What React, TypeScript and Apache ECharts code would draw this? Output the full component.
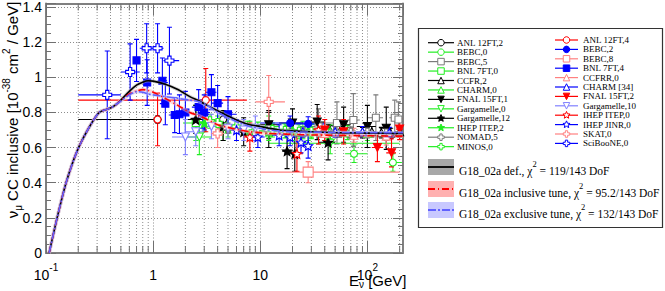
import React, { useEffect, useRef } from 'react';
import * as echarts from 'echarts';

const FONT_SANS = '"Liberation Sans", Arial, sans-serif';
const FONT_SERIF = '"Liberation Serif", "Times New Roman", serif';

// ---- axis ranges ----
const X_MIN = 0.1;
const X_MAX = 215;
const Y_MIN = 0;
const Y_MAX = 1.42;

// ---- GENIE curves ----
const curveE = [0.107, 0.127, 0.154, 0.195, 0.25, 0.314, 0.4, 0.45, 0.5, 0.6, 0.7, 0.8, 0.9, 1.0, 1.3, 1.7, 2.2, 2.7, 3.2, 4, 5, 6.4, 8, 10, 12, 15, 20, 30, 50, 80, 120, 200, 215];
const curveDefault = [0, 0.2, 0.4, 0.58, 0.71, 0.8, 0.825, 0.845, 0.87, 0.92, 0.955, 0.972, 0.98, 0.978, 0.96, 0.93, 0.89, 0.865, 0.84, 0.81, 0.78, 0.75, 0.73, 0.72, 0.71, 0.7, 0.695, 0.69, 0.685, 0.683, 0.682, 0.68, 0.68];
const curveInclusive = [0, 0.2, 0.4, 0.58, 0.71, 0.8, 0.825, 0.845, 0.87, 0.905, 0.922, 0.93, 0.925, 0.915, 0.88, 0.84, 0.8, 0.78, 0.76, 0.73, 0.715, 0.7, 0.69, 0.685, 0.68, 0.678, 0.675, 0.672, 0.67, 0.668, 0.667, 0.665, 0.665];
const curveExclusive = [0, 0.2, 0.4, 0.58, 0.71, 0.8, 0.825, 0.845, 0.865, 0.9, 0.918, 0.915, 0.905, 0.9, 0.89, 0.88, 0.87, 0.86, 0.84, 0.8, 0.77, 0.74, 0.72, 0.71, 0.7, 0.695, 0.69, 0.688, 0.686, 0.685, 0.685, 0.685, 0.685];

// ---- measurements: [E, value, E low, E high, error] ----
const ANL_12FT_2 = [[1.1, 0.76, 0.2, 1.1, 0.02], [4.5, 0.76, 4, 5, 0.05]];
const BEBC_0 = [[12, 0.72, 10, 15, 0.06], [25, 0.7, 20, 30, 0.05], [75, 0.565, 62, 100, 0.05], [173, 0.515, 150, 210, 0.05]];
const BEBC_5 = [[35, 0.72, 30, 40, 0.1], [52, 0.74, 40, 65, 0.12], [74, 0.757, 65, 85, 0.15], [120, 0.77, 100, 140, 0.13], [180, 0.77, 160, 200, 0.1], [195, 0.76, 185, 210, 0.1]];
const BNL_7FT_0 = [[2.5, 0.74, 1.9, 3.2, 0.1], [4.5, 0.72, 3.5, 5.5, 0.08]];
const CCFR_2 = [[35, 0.7, 30, 40, 0.03], [45, 0.695, 40, 50, 0.03], [55, 0.69, 50, 60, 0.03], [70, 0.685, 60, 80, 0.03], [90, 0.685, 80, 100, 0.03], [110, 0.69, 100, 120, 0.03], [135, 0.685, 120, 150, 0.03], [165, 0.68, 150, 180, 0.03], [200, 0.69, 180, 215, 0.03]];
const CHARM_0 = [[20, 0.7, 15, 25, 0.04], [30, 0.695, 25, 35, 0.04], [45, 0.69, 40, 50, 0.04], [65, 0.685, 55, 75, 0.04], [100, 0.68, 85, 115, 0.04], [150, 0.685, 130, 170, 0.04]];
const FNAL_15FT_1 = [[12, 0.73, 10, 15, 0.08], [20, 0.74, 15, 25, 0.08], [34, 0.745, 28, 40, 0.1], [60, 0.73, 50, 70, 0.1], [100, 0.72, 80, 120, 0.12], [150, 0.71, 130, 170, 0.12]];
const Gargamelle_0 = [[2.7, 0.66, 2, 3.5, 0.1], [45, 0.625, 12, 200, 0.06]];
const Gargamelle_12 = [[2.5, 0.76, 2, 3, 0.08], [4.5, 0.72, 4, 5, 0.08], [7, 0.69, 6, 8, 0.08], [12, 0.7, 10, 14, 0.1], [17.8, 0.58, 16, 20, 0.1], [21, 0.565, 19, 23, 0.1], [43, 0.63, 35, 50, 0.1]];
const IHEP_ITEP_2 = [[3, 0.74, 2.5, 3.5, 0.05], [5, 0.71, 4.5, 5.5, 0.05], [8, 0.7, 7, 9, 0.05], [12, 0.69, 10, 14, 0.05], [20, 0.69, 18, 22, 0.05], [28, 0.69, 25, 30, 0.05]];
const NOMAD_5 = [[5, 0.71, 4, 6, 0.03], [8, 0.7, 7, 9, 0.03], [12, 0.7, 10, 14, 0.03], [18, 0.695, 16, 20, 0.03], [25, 0.69, 22, 28, 0.03], [35, 0.69, 30, 40, 0.03], [50, 0.69, 45, 55, 0.03], [70, 0.685, 60, 80, 0.03], [100, 0.685, 90, 110, 0.03], [150, 0.68, 130, 170, 0.04]];
const MINOS_0 = [[3.4, 0.75, 3, 4, 0.04], [4, 0.74, 3.5, 4.5, 0.04], [6, 0.72, 5, 7, 0.04], [7.6, 0.71, 7, 8.5, 0.04], [9.5, 0.705, 8.5, 11, 0.04], [13, 0.7, 11, 15, 0.04], [17, 0.695, 15, 20, 0.04], [23, 0.69, 20, 26, 0.04], [30, 0.69, 26, 35, 0.04], [42, 0.68, 35, 50, 0.04]];
const ANL_12FT_4 = [[1.1, 0.76, 1.0, 1.2, 0.15], [3.1, 0.87, 0.2, 7.5, 0.18]];
const BEBC_2 = [[2.9, 0.79, 2.5, 3.3, 0.08], [19, 0.74, 10, 30, 0.04], [28, 0.735, 20, 40, 0.04]];
const BEBC_8 = [[28, 0.46, 10, 200, 0.06]];
const BNL_7FT_4 = [[0.7, 1.096, 0.65, 0.75, 0.12], [0.88, 0.97, 0.82, 0.95, 0.13], [1.22, 0.98, 1.1, 1.35, 0.13], [1.3, 0.85, 1.2, 1.4, 0.12], [1.59, 0.785, 1.4, 1.75, 0.1], [1.76, 0.79, 1.6, 1.9, 0.11], [2.0, 0.8, 1.8, 2.2, 0.12], [2.66, 0.83, 2.3, 3.0, 0.1], [3.0, 0.8, 2.6, 3.4, 0.1], [3.5, 0.915, 3.1, 3.9, 0.1], [4.0, 0.853, 3.5, 4.5, 0.1], [5.0, 0.79, 4.2, 6.0, 0.1]];
const CCFRR_0 = [[40, 0.68, 30, 50, 0.04], [75, 0.67, 60, 90, 0.04], [150, 0.665, 120, 180, 0.05]];
const CHARM_34 = [[25, 0.69, 20, 30, 0.03], [50, 0.69, 40, 60, 0.03], [90, 0.69, 70, 110, 0.03], [160, 0.685, 130, 190, 0.03]];
const FNAL_15FT_2 = [[40, 0.7, 35, 45, 0.06], [60, 0.69, 55, 65, 0.07], [124, 0.6, 110, 140, 0.08], [168, 0.57, 150, 185, 0.08], [200, 0.705, 185, 215, 0.06]];
const Gargamelle_10 = [[2.0, 0.66, 1.5, 2.5, 0.1], [2.5, 0.69, 2.0, 3.0, 0.08], [3.5, 0.72, 3, 4, 0.07], [5, 0.71, 4, 6, 0.06], [7, 0.7, 6, 8, 0.06], [9, 0.71, 8, 10, 0.07]];
const IHEP_ITEP_0 = [[8, 0.66, 7, 9, 0.08], [22, 0.565, 20, 25, 0.1], [35, 0.7, 30, 40, 0.08]];
const IHEP_JINR_0 = [[6, 0.7, 5, 7, 0.06], [9.5, 0.66, 8, 11, 0.06], [15, 0.67, 12, 18, 0.06], [19, 0.66, 17, 22, 0.05], [24, 0.63, 22, 27, 0.06], [28, 0.61, 26, 30, 0.07]];
const SKAT_0 = [[4.0, 0.68, 3.5, 4.6, 0.08], [12, 0.86, 9, 17, 0.15]];
const SciBooNE_0 = [[0.373, 0.9, 0.2, 0.5, 0.25], [0.61, 1.03, 0.5, 0.75, 0.16], [0.87, 1.165, 0.75, 1.0, 0.14], [1.1, 1.165, 1.0, 1.25, 0.14], [1.42, 1.095, 1.25, 1.75, 0.19]];

// ---- styles ----
const BLACK = '#000000', GREEN = '#22ee22', GRAY = '#7a7a7a', RED = '#ff0000', PINK = '#ff8080', BLUE = '#0000ff', LBLUE = '#8080ff';

const experiments = [
  { name: 'ANL 12FT,2', data: ANL_12FT_2, color: BLACK, marker: 'circle', filled: false },
  { name: 'BEBC,0', data: BEBC_0, color: GREEN, marker: 'circle', filled: false },
  { name: 'BEBC,5', data: BEBC_5, color: GRAY, marker: 'rect', filled: false },
  { name: 'BNL 7FT,0', data: BNL_7FT_0, color: GREEN, marker: 'rect', filled: false },
  { name: 'CCFR,2', data: CCFR_2, color: BLACK, marker: 'triangle', filled: false },
  { name: 'CHARM,0', data: CHARM_0, color: GREEN, marker: 'triangle', filled: false },
  { name: 'FNAL 15FT,1', data: FNAL_15FT_1, color: BLACK, marker: 'triangleDown', filled: true },
  { name: 'Gargamelle,0', data: Gargamelle_0, color: GREEN, marker: 'triangleDown', filled: false },
  { name: 'Gargamelle,12', data: Gargamelle_12, color: BLACK, marker: 'star', filled: true },
  { name: 'IHEP ITEP,2', data: IHEP_ITEP_2, color: GREEN, marker: 'star', filled: true },
  { name: 'NOMAD,5', data: NOMAD_5, color: GRAY, marker: 'cross', filled: false },
  { name: 'MINOS,0', data: MINOS_0, color: GREEN, marker: 'cross', filled: false },
  { name: 'ANL 12FT,4', data: ANL_12FT_4, color: RED, marker: 'circle', filled: false },
  { name: 'BEBC,2', data: BEBC_2, color: BLUE, marker: 'circle', filled: true },
  { name: 'BEBC,8', data: BEBC_8, color: PINK, marker: 'rect', filled: false },
  { name: 'BNL 7FT,4', data: BNL_7FT_4, color: BLUE, marker: 'rect', filled: true },
  { name: 'CCFRR,0', data: CCFRR_0, color: PINK, marker: 'triangle', filled: false },
  { name: 'CHARM [34]', data: CHARM_34, color: BLUE, marker: 'triangle', filled: false },
  { name: 'FNAL 15FT,2', data: FNAL_15FT_2, color: RED, marker: 'triangleDown', filled: true },
  { name: 'Gargamelle,10', data: Gargamelle_10, color: LBLUE, marker: 'triangleDown', filled: false },
  { name: 'IHEP ITEP,0', data: IHEP_ITEP_0, color: RED, marker: 'star', filled: false },
  { name: 'IHEP JINR,0', data: IHEP_JINR_0, color: BLUE, marker: 'star', filled: false },
  { name: 'SKAT,0', data: SKAT_0, color: PINK, marker: 'cross', filled: false },
  { name: 'SciBooNE,0', data: SciBooNE_0, color: BLUE, marker: 'cross', filled: false },
];

const models = [
  { label: 'def.,', chi: '119/143', data: curveDefault, color: '#000000', band: '#a8a8a8', dash: 'solid' },
  { label: 'inclusive tune,', chi: '95.2/143', data: curveInclusive, color: '#ff0000', band: '#ffb0b0', dash: [7, 3, 1, 3] },
  { label: 'exclusive tune,', chi: '132/143', data: curveExclusive, color: '#6060ff', band: '#c8c8ff', dash: [8, 2, 2, 2] },
];

// ---- marker geometry helpers ----
function starPts(cx: number, cy: number, R: number) {
  const pts: number[][] = [];
  for (let i = 0; i < 10; i++) {
    const r = i % 2 ? R * 0.45 : R;
    const a = -Math.PI / 2 + (i * Math.PI) / 5;
    pts.push([cx + r * Math.cos(a), cy + r * Math.sin(a)]);
  }
  return pts;
}
function crossPts(cx: number, cy: number, R: number) {
  const w = R * 0.36;
  return [[cx - w, cy - R], [cx + w, cy - R], [cx + w, cy - w], [cx + R, cy - w], [cx + R, cy + w], [cx + w, cy + w], [cx + w, cy + R], [cx - w, cy + R], [cx - w, cy + w], [cx - R, cy + w], [cx - R, cy - w], [cx - w, cy - w]];
}
const toPath = (pts: number[][]) => 'path://M' + pts.map((p) => p[0].toFixed(2) + ',' + p[1].toFixed(2)).join('L') + 'Z';
const STAR_PATH = toPath(starPts(50, 50, 50));
const CROSS_PATH = toPath(crossPts(50, 50, 50));

function symbolFor(kind: string) {
  switch (kind) {
    case 'circle': return { symbol: 'circle', size: 7, rotate: 0 };
    case 'rect': return { symbol: 'rect', size: 7, rotate: 0 };
    case 'triangle': return { symbol: 'triangle', size: 8, rotate: 0 };
    case 'triangleDown': return { symbol: 'triangle', size: 8, rotate: 180 };
    case 'star': return { symbol: STAR_PATH, size: 9, rotate: 0 };
    default: return { symbol: CROSS_PATH, size: 9, rotate: 0 };
  }
}

function markerGraphic(kind: string, filled: boolean, color: string, cx: number, cy: number, s: number) {
  const style = { fill: filled ? color : '#ffffff', stroke: color, lineWidth: 1 };
  const h = s / 2;
  switch (kind) {
    case 'circle': return { type: 'circle', shape: { cx, cy, r: h }, style };
    case 'rect': return { type: 'rect', shape: { x: cx - h, y: cy - h, width: s, height: s }, style };
    case 'triangle': return { type: 'polygon', shape: { points: [[cx, cy - h], [cx + h, cy + h], [cx - h, cy + h]] }, style };
    case 'triangleDown': return { type: 'polygon', shape: { points: [[cx, cy + h], [cx + h, cy - h], [cx - h, cy - h]] }, style };
    case 'star': return { type: 'polygon', shape: { points: starPts(cx, cy, h + 0.5) }, style };
    default: return { type: 'polygon', shape: { points: crossPts(cx, cy, h) }, style };
  }
}

const lg = Math.log10;

function buildOption() {
  const series: any[] = [];

  // minor log grid lines + ticks
  const minorX: number[][] = [];
  for (let p = -1; p <= 2; p++) {
    for (let k = 2; k <= 9; k++) {
      const v = k * Math.pow(10, p);
      if (v < X_MAX) minorX.push([lg(v), 0]);
    }
  }
  series.push({
    type: 'custom',
    silent: true,
    z: 1,
    data: minorX,
    encode: { x: 0, y: 1 },
    renderItem: (params: any, api: any) => {
      const x = api.value(0);
      const b = api.coord([x, Y_MIN]);
      const t = api.coord([x, Y_MAX]);
      return {
        type: 'group',
        children: [
          { type: 'line', shape: { x1: b[0], y1: b[1], x2: t[0], y2: t[1] }, style: { stroke: '#8c8c8c', lineWidth: 1, lineDash: [1, 2] } },
          { type: 'line', shape: { x1: b[0], y1: b[1], x2: b[0], y2: b[1] - 7 }, style: { stroke: '#707070', lineWidth: 1 } },
          { type: 'line', shape: { x1: t[0], y1: t[1], x2: t[0], y2: t[1] + 7 }, style: { stroke: '#707070', lineWidth: 1 } },
        ],
      };
    },
  });

  // measurements
  experiments.forEach((ex) => {
    series.push({
      type: 'custom',
      name: ex.name + ' err',
      silent: true,
      clip: true,
      z: 3,
      data: ex.data.map((d) => [lg(d[0]), d[1], lg(d[2]), lg(d[3]), d[4]]),
      encode: { x: 0, y: 1 },
      renderItem: (params: any, api: any) => {
        const x = api.value(0), v = api.value(1), lo = api.value(2), hi = api.value(3), er = api.value(4);
        const l = api.coord([lo, v]);
        const h = api.coord([hi, v]);
        const t = api.coord([x, v + er]);
        const b = api.coord([x, v - er]);
        const st = { stroke: ex.color, lineWidth: 1.1 };
        return {
          type: 'group',
          children: [
            { type: 'line', shape: { x1: l[0], y1: l[1], x2: h[0], y2: h[1] }, style: st },
            { type: 'line', shape: { x1: t[0], y1: t[1], x2: b[0], y2: b[1] }, style: st },
            { type: 'line', shape: { x1: t[0] - 2.5, y1: t[1], x2: t[0] + 2.5, y2: t[1] }, style: st },
            { type: 'line', shape: { x1: b[0] - 2.5, y1: b[1], x2: b[0] + 2.5, y2: b[1] }, style: st },
          ],
        };
      },
    });
  });
  experiments.forEach((ex) => {
    const s = symbolFor(ex.marker);
    series.push({
      type: 'scatter',
      name: ex.name,
      silent: true,
      z: 4,
      symbol: s.symbol,
      symbolSize: ex.name === 'BEBC,8' ? 10 : s.size,
      symbolRotate: s.rotate,
      itemStyle: { color: ex.filled ? ex.color : '#ffffff', borderColor: ex.color, borderWidth: 1.1, opacity: 1 },
      data: ex.data.map((d) => [lg(d[0]), d[1]]),
    });
  });

  // model curves: band then line
  models.forEach((m) => {
    const pts = curveE.map((e, i) => [lg(e), m.data[i]]);
    series.push({
      type: 'line', silent: true, z: 5, showSymbol: false, smooth: 0.25,
      data: pts, lineStyle: { color: m.band, width: 3.5, opacity: 0.5 },
    });
  });
  models.forEach((m) => {
    const pts = curveE.map((e, i) => [lg(e), m.data[i]]);
    series.push({
      type: 'line', silent: true, z: 6, showSymbol: false, smooth: 0.25,
      data: pts, lineStyle: { color: m.color, width: 1.6, type: m.dash },
    });
  });

  const axisLine = { show: true, onZero: false, lineStyle: { color: '#808080', width: 2 } };
  const dotted = { show: true, lineStyle: { color: '#8c8c8c', width: 1, type: [1, 2] } };

  const xLabel = (v: number) => {
    const e = Math.round(v);
    if (e === 0) return '{b|1}';
    if (e === 1) return '{b|10}';
    return '{b|10}{s|' + e + '}';
  };
  const yLabel = (v: number) => (v === 0 ? '0' : String(Math.round(v * 10) / 10));

  // legend graphics
  const gfx: any[] = [];
  gfx.push({ type: 'rect', shape: { x: 418.5, y: 28.5, width: 244, height: 199 }, style: { fill: '#ffffff', stroke: '#333333', lineWidth: 1.2 }, z: 10 });
  experiments.forEach((ex, i) => {
    const col = i < 12 ? 0 : 1;
    const row = i % 12;
    const y = col === 0 ? 42.7 + row * 9.45 : 40 + row * 9.4;
    const x1 = col === 0 ? 428 : 555;
    const x2 = col === 0 ? 454 : 578;
    const tx = col === 0 ? 457 : 583;
    gfx.push({ type: 'line', z: 11, shape: { x1, y1: y, x2, y2: y }, style: { stroke: ex.color, lineWidth: 1.2 } });
    gfx.push({ ...markerGraphic(ex.marker, ex.filled, ex.color, (x1 + x2) / 2, y, 6.5), z: 12 });
    gfx.push({ type: 'text', z: 12, x: tx, y, style: { text: ex.name, fontFamily: FONT_SERIF, fontSize: 9, fill: '#000', align: 'left', verticalAlign: 'middle', textAlign: 'left', textVerticalAlign: 'middle' } });
  });
  const bandY = [167, 189, 210];
  models.forEach((m, i) => {
    const y = bandY[i];
    gfx.push({ type: 'rect', z: 11, shape: { x: 428, y: y - 8, width: 26, height: 16 }, style: { fill: m.band, stroke: 'none' } });
    gfx.push({ type: 'line', z: 12, shape: { x1: 428, y1: y, x2: 454, y2: y }, style: { stroke: m.color, lineWidth: 1.8, lineDash: m.dash === 'solid' ? null : m.dash } });
    gfx.push({
      type: 'text', z: 12, x: 459, y: y + 1,
      style: {
        text: '{n|G18_02a ' + m.label + ' χ}{p|2}{n| = ' + m.chi + ' DoF}',
        fill: '#000', align: 'left', verticalAlign: 'middle', textAlign: 'left', textVerticalAlign: 'middle',
        rich: {
          n: { fontFamily: FONT_SERIF, fontSize: 11.5, lineHeight: 18, verticalAlign: 'bottom' },
          p: { fontFamily: FONT_SERIF, fontSize: 8.5, lineHeight: 12, verticalAlign: 'top' },
        },
      },
    });
  });

  // axis titles
  gfx.push({
    type: 'text', z: 12, x: 12, y: 110, rotation: Math.PI / 2,
    style: {
      text: '{n|ν}{d|μ}{n| CC inclusive [10}{u|-38}{n| cm}{u|2}{n| / GeV]}',
      fill: '#000', align: 'center', verticalAlign: 'middle', textAlign: 'center', textVerticalAlign: 'middle',
      rich: {
        n: { fontFamily: FONT_SANS, fontSize: 15, lineHeight: 22, verticalAlign: 'middle' },
        u: { fontFamily: FONT_SANS, fontSize: 10, lineHeight: 12, verticalAlign: 'top' },
        d: { fontFamily: FONT_SANS, fontSize: 10, lineHeight: 12, verticalAlign: 'bottom' },
      },
    },
  });
  gfx.push({
    type: 'text', z: 12, x: 349, y: 280,
    style: {
      text: '{n|E}{d|ν}{n| [GeV]}',
      fill: '#000', align: 'left', verticalAlign: 'middle', textAlign: 'left', textVerticalAlign: 'middle',
      rich: {
        n: { fontFamily: FONT_SANS, fontSize: 15, lineHeight: 18, verticalAlign: 'middle' },
        d: { fontFamily: FONT_SANS, fontSize: 10, lineHeight: 10, verticalAlign: 'bottom' },
      },
    },
  });

  return {
    animation: false,
    backgroundColor: '#ffffff',
    grid: { left: 46, right: 262, top: 2, bottom: 38, containLabel: false },
    xAxis: [
      {
        type: 'value', min: lg(X_MIN), max: lg(X_MAX), interval: 1, position: 'bottom',
        axisLine, axisTick: { show: true, inside: true, length: 12, lineStyle: { color: '#707070', width: 1 } },
        splitLine: dotted,
        axisLabel: {
          formatter: xLabel, margin: 9, showMaxLabel: false, showMinLabel: true,
          rich: {
            b: { fontFamily: FONT_SANS, fontSize: 14, color: '#000', lineHeight: 20, verticalAlign: 'bottom' },
            s: { fontFamily: FONT_SANS, fontSize: 10, color: '#000', lineHeight: 12, verticalAlign: 'top' },
          },
        },
      },
      {
        type: 'value', min: lg(X_MIN), max: lg(X_MAX), interval: 1, position: 'top',
        axisLine, axisTick: { show: true, inside: true, length: 12, lineStyle: { color: '#707070', width: 1 } },
        splitLine: { show: false }, axisLabel: { show: false },
      },
    ],
    yAxis: [
      {
        type: 'value', min: Y_MIN, max: Y_MAX, interval: 0.2, position: 'left',
        axisLine, axisTick: { show: true, inside: true, length: 10, lineStyle: { color: '#707070' } },
        minorTick: { show: true, splitNumber: 4, length: 5, lineStyle: { color: '#707070' } },
        splitLine: dotted,
        axisLabel: { formatter: yLabel, margin: 4, showMaxLabel: false, fontFamily: FONT_SANS, fontSize: 14, color: '#000' },
      },
      {
        type: 'value', min: Y_MIN, max: Y_MAX, interval: 0.2, position: 'right',
        axisLine, axisTick: { show: true, inside: true, length: 10, lineStyle: { color: '#707070' } },
        minorTick: { show: true, splitNumber: 4, length: 5, lineStyle: { color: '#707070' } },
        splitLine: { show: false }, axisLabel: { show: false },
      },
    ],
    series,
    graphic: { elements: gfx },
  };
}

export default function App() {
  const ref = useRef<HTMLDivElement>(null);
  useEffect(() => {
    if (!ref.current) return;
    const chart = echarts.init(ref.current, undefined, { renderer: 'svg' });
    chart.setOption(buildOption() as any);
    return () => chart.dispose();
  }, []);
  return <div ref={ref} style={{ position: 'fixed', left: 0, top: 0, width: 665, height: 291, background: '#fff' }} />;
}
